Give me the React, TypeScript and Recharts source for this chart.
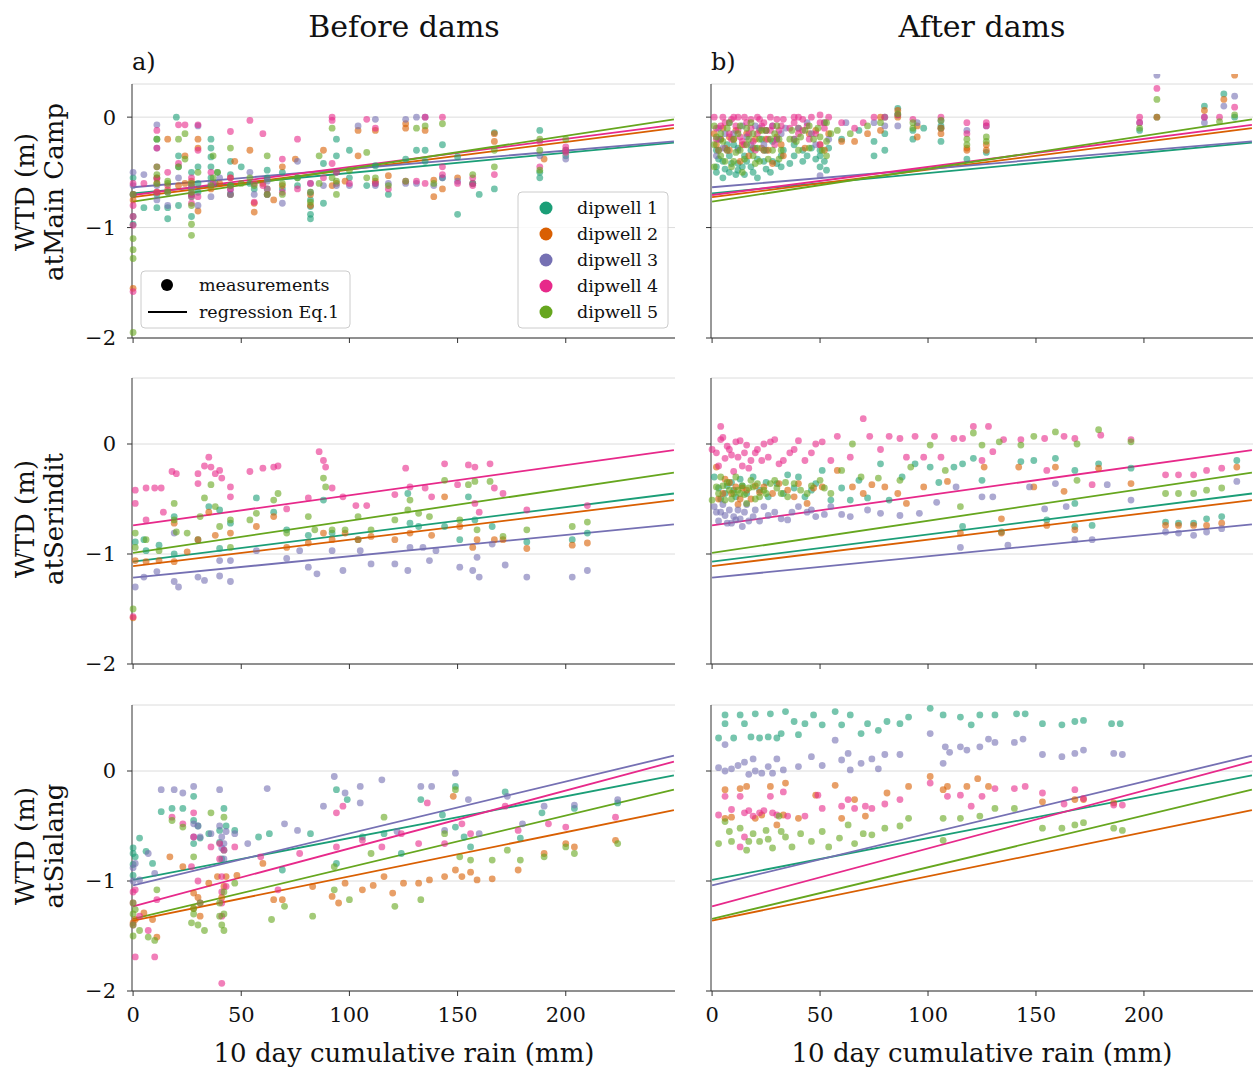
import React from 'react';
import { ScatterChart, Scatter, XAxis, YAxis, CartesianGrid, ReferenceLine } from 'recharts';

const FONT = '"DejaVu Serif", serif';

const wells = ['dipwell 1', 'dipwell 2', 'dipwell 3', 'dipwell 4', 'dipwell 5'];
const colors = ['#1b9e77', '#d95f02', '#7570b3', '#e7298a', '#66a61e'];
const xTicks = [0, 50, 100, 150, 200];
const yTicks = [-2, -1, 0];
const sites = ['atMain Camp', 'atSerindit', 'atSialang'];

// regression lines: WTD at 0 mm and at 250 mm rain, per dipwell
const regMain0 = [-0.69, -0.725, -0.635, -0.705, -0.765];
const regMain250 = [-0.23, -0.1, -0.22, -0.07, -0.02];
const regSer0 = [-1.07, -1.11, -1.215, -0.74, -0.99];
const regSer250 = [-0.45, -0.51, -0.73, -0.055, -0.26];
const regSia0 = [-0.99, -1.36, -1.04, -1.23, -1.345];
const regSia250 = [-0.04, -0.355, 0.14, 0.085, -0.17];

// Main Camp, before dams
const mainBefore1 = [[0,-0.55],[0,-0.7],[0,-0.9],[0,-0.97],[5,-0.82],[11,-0.2],[11,-0.55],[11,-0.7],[11,-0.82],[16,-0.82],[16,-0.92],[20,0.0],[21,-0.35],[21,-0.45],[21,-0.8],[27,-0.5],[27,-0.62],[27,-0.7],[27,-0.9],[30,-0.45],[30,-0.6],[30,-0.68],[36,-0.2],[36,-0.28],[36,-0.36],[36,-0.45],[36,-0.55],[38,-0.6],[39,-0.5],[45,-0.4],[45,-0.52],[45,-0.62],[45,-0.7],[50,-0.45],[54,-0.6],[56,-0.65],[62,-0.48],[62,-0.55],[62,-0.7],[69,-0.5],[69,-0.65],[76,-0.55],[76,-0.62],[82,-0.75],[82,-0.81],[82,-0.88],[82,-0.92],[88,-0.42],[88,-0.78],[94,-0.2],[94,-0.35],[94,-0.5],[100,-0.3],[100,-0.55],[108,-0.62],[112,-0.44],[112,-0.6],[118,-0.7],[126,-0.38],[131,-0.3],[135,-0.3],[135,-0.4],[143,-0.25],[143,-0.55],[150,-0.36],[150,-0.88],[157,-0.6],[160,-0.7],[167,-0.14],[167,-0.65],[188,-0.12],[188,-0.5],[188,-0.55],[200,-0.35]];
const mainBefore2 = [[0,-0.75],[0,-1.55],[11,-0.55],[11,-0.6],[11,-0.68],[16,-0.2],[16,-0.66],[21,-0.62],[24,-0.35],[24,-0.6],[27,-0.58],[27,-0.72],[30,-0.2],[30,-0.28],[30,-0.85],[36,-0.65],[40,-0.6],[45,-0.55],[45,-0.7],[47,-0.4],[54,-0.3],[56,-0.78],[56,-0.86],[60,-0.6],[62,-0.65],[65,-0.75],[69,-0.45],[69,-0.62],[75,-0.38],[82,-0.7],[82,-0.8],[88,-0.3],[92,-0.62],[94,-0.6],[98,-0.58],[104,-0.12],[104,-0.35],[112,-0.12],[112,-0.58],[118,-0.53],[126,-0.06],[126,-0.1],[135,-0.12],[139,-0.57],[139,-0.72],[143,-0.65],[150,-0.55],[157,-0.6],[167,-0.15],[167,-0.22],[190,-0.38],[200,-0.3]];
const mainBefore3 = [[0,-0.5],[0,-0.62],[5,-0.52],[11,-0.07],[11,-0.28],[11,-0.62],[11,-0.75],[16,-0.68],[16,-0.8],[21,-0.55],[27,-0.65],[27,-0.72],[30,-0.08],[30,-0.8],[36,-0.6],[36,-0.72],[40,-0.55],[45,-0.66],[45,-0.7],[54,-0.5],[56,-0.7],[62,-0.58],[62,-0.65],[69,-0.78],[76,-0.4],[82,-0.6],[82,-0.68],[88,-0.62],[94,-0.62],[100,-0.62],[104,-0.08],[112,-0.02],[112,-0.62],[118,-0.6],[126,-0.02],[126,-0.6],[131,0.0],[131,-0.6],[135,0.0],[139,-0.62],[143,-0.55],[150,-0.58],[157,-0.6],[188,-0.35],[200,-0.3],[200,-0.38]];
const mainBefore4 = [[0,-0.6],[0,-0.7],[0,-0.8],[0,-0.9],[0,-0.98],[0,-1.58],[5,-0.6],[11,-0.12],[11,-0.28],[11,-0.45],[11,-0.56],[11,-0.68],[16,-0.5],[16,-0.62],[21,-0.07],[21,-0.42],[24,-0.07],[27,-0.55],[27,-0.62],[27,-0.7],[27,-0.78],[30,-0.07],[30,-0.3],[30,-0.72],[36,-0.5],[37,-0.6],[45,-0.13],[45,-0.55],[45,-0.65],[54,-0.03],[56,-0.6],[56,-0.77],[60,-0.15],[60,-0.62],[62,-0.7],[69,-0.38],[69,-0.68],[76,-0.2],[76,-0.65],[82,-0.6],[88,-0.55],[92,0.0],[92,-0.03],[92,-0.42],[94,-0.5],[100,-0.6],[108,-0.02],[112,-0.1],[112,-0.6],[118,-0.65],[126,-0.58],[131,-0.58],[135,0.0],[135,-0.6],[143,0.0],[143,-0.45],[143,-0.52],[150,-0.6],[157,-0.55],[157,-0.62],[167,-0.52],[188,-0.22],[188,-0.45],[200,-0.27],[200,-0.32]];
const mainBefore5 = [[0,-0.7],[0,-1.1],[0,-1.2],[0,-1.28],[0,-1.95],[11,-0.2],[11,-0.45],[11,-0.52],[11,-0.6],[16,-0.58],[16,-0.6],[16,-0.68],[21,-0.2],[21,-0.45],[24,-0.15],[24,-0.38],[27,-0.6],[27,-0.68],[27,-0.8],[27,-0.97],[27,-1.07],[30,-0.5],[36,-0.62],[37,-0.35],[37,-0.55],[39,-0.5],[45,-0.28],[45,-0.62],[50,-0.6],[54,-0.55],[56,-0.62],[62,-0.35],[62,-0.7],[69,-0.6],[69,-0.7],[76,-0.55],[82,-0.68],[82,-0.77],[86,-0.35],[86,-0.6],[92,-0.1],[92,-0.55],[94,-0.58],[94,-0.7],[100,-0.48],[108,-0.32],[108,-0.55],[112,-0.55],[118,-0.62],[126,-0.58],[131,-0.1],[135,-0.08],[139,-0.6],[143,-0.06],[157,-0.52],[167,-0.3],[167,-0.45],[188,-0.2],[188,-0.3],[188,-0.48],[200,-0.2]];

// Main Camp, after dams
const mainAfter1 = [[2,-0.3],[2,-0.45],[2,-0.5],[3,-0.38],[4,-0.2],[5,-0.4],[5,-0.55],[6,-0.47],[7,-0.25],[8,-0.35],[8,-0.5],[9,-0.42],[10,-0.25],[11,-0.52],[12,-0.28],[12,-0.42],[12,-0.48],[14,-0.45],[15,-0.35],[15,-0.52],[16,-0.4],[18,-0.3],[18,-0.45],[19,-0.5],[20,-0.28],[21,-0.38],[21,-0.55],[23,-0.2],[24,-0.4],[25,-0.3],[25,-0.47],[27,-0.5],[28,-0.22],[28,-0.4],[30,-0.42],[32,-0.35],[32,-0.45],[33,-0.3],[36,-0.42],[38,-0.25],[38,-0.35],[42,-0.3],[42,-0.4],[44,-0.35],[46,-0.28],[48,-0.38],[50,-0.3],[50,-0.35],[50,-0.45],[52,-0.4],[53,-0.48],[54,-0.28],[60,-0.2],[68,-0.12],[75,-0.22],[75,-0.35],[80,0.0],[80,-0.15],[80,-0.3],[86,0.02],[86,0.08],[93,-0.12],[93,-0.2],[98,-0.1],[106,-0.08],[106,-0.22],[118,-0.38],[127,-0.32],[198,-0.12],[206,0.0],[228,0.1],[237,0.21],[242,0.0]];
const mainAfter2 = [[1,-0.15],[2,-0.25],[4,-0.2],[5,-0.1],[6,-0.28],[8,-0.18],[8,-0.3],[10,-0.2],[11,-0.12],[13,-0.4],[14,-0.25],[16,-0.15],[17,-0.35],[19,-0.28],[20,-0.2],[22,-0.12],[23,-0.28],[25,-0.2],[26,-0.3],[28,-0.42],[30,-0.18],[32,-0.25],[33,-0.35],[38,-0.2],[40,-0.1],[43,-0.28],[45,-0.15],[48,-0.12],[50,-0.25],[52,-0.05],[52,-0.3],[54,-0.15],[60,-0.22],[66,-0.22],[72,-0.15],[78,0.0],[78,-0.12],[86,0.0],[86,0.06],[95,-0.08],[95,-0.18],[106,-0.1],[106,-0.15],[118,-0.28],[118,-0.3],[127,-0.25],[127,-0.3],[206,0.42],[206,0.0],[228,0.06],[237,0.16],[242,0.38]];
const mainAfter3 = [[2,-0.35],[3,-0.1],[3,-0.2],[5,-0.28],[6,-0.15],[8,-0.05],[10,-0.15],[12,-0.3],[14,-0.08],[16,-0.18],[18,-0.25],[20,-0.08],[22,-0.1],[24,-0.25],[25,-0.12],[28,-0.08],[30,-0.2],[32,-0.15],[34,-0.1],[38,-0.2],[40,-0.1],[44,-0.05],[46,-0.15],[48,-0.25],[50,-0.53],[52,-0.05],[54,-0.2],[62,-0.05],[75,-0.05],[80,-0.08],[86,-0.08],[95,-0.05],[106,-0.03],[118,-0.12],[127,-0.08],[198,-0.05],[206,0.38],[228,0.0],[228,-0.05],[237,0.1],[242,0.19]];
const mainAfter4 = [[1,0.0],[2,-0.1],[2,-0.2],[3,-0.3],[4,-0.08],[5,0.0],[6,-0.05],[7,-0.3],[8,-0.15],[9,-0.02],[9,-0.2],[10,0.0],[11,-0.08],[12,0.0],[12,-0.12],[13,-0.18],[14,-0.22],[15,0.0],[15,-0.25],[16,-0.05],[17,-0.15],[18,-0.02],[18,-0.1],[19,-0.22],[20,-0.3],[21,0.0],[21,-0.15],[22,-0.02],[23,-0.08],[24,-0.05],[24,-0.3],[25,-0.12],[26,-0.2],[27,0.0],[27,-0.12],[28,-0.08],[29,-0.25],[30,-0.02],[30,-0.2],[31,-0.12],[32,-0.08],[33,-0.02],[36,-0.1],[38,0.0],[38,-0.05],[40,0.0],[40,-0.15],[42,-0.02],[42,-0.12],[44,-0.08],[45,-0.2],[46,0.0],[48,-0.15],[50,0.02],[50,-0.05],[50,-0.25],[52,-0.1],[54,0.0],[60,-0.05],[66,-0.1],[70,-0.05],[75,0.0],[80,0.0],[86,0.02],[93,-0.02],[106,0.0],[106,-0.1],[118,-0.05],[118,-0.15],[127,-0.05],[127,-0.08],[198,0.0],[198,-0.05],[206,0.26],[228,0.0],[235,0.0],[242,0.09]];
const mainAfter5 = [[1,-0.08],[1,-0.25],[1,-0.45],[2,-0.18],[3,-0.3],[4,-0.15],[4,-0.35],[5,-0.22],[6,-0.4],[7,-0.1],[7,-0.3],[8,-0.05],[9,-0.45],[10,-0.2],[10,-0.4],[11,-0.32],[12,-0.15],[13,-0.08],[13,-0.3],[14,-0.5],[15,-0.38],[16,-0.1],[16,-0.25],[17,-0.2],[18,-0.05],[19,-0.15],[19,-0.35],[20,-0.42],[21,-0.28],[22,-0.2],[22,-0.4],[23,-0.12],[24,-0.3],[25,-0.12],[26,-0.38],[27,-0.2],[28,-0.3],[29,-0.15],[30,-0.08],[31,-0.2],[31,-0.38],[32,-0.3],[36,-0.2],[37,-0.12],[39,-0.22],[40,-0.3],[41,-0.18],[43,-0.12],[45,-0.08],[45,-0.28],[47,-0.2],[49,-0.1],[50,-0.18],[51,-0.3],[53,-0.05],[53,-0.22],[53,-0.35],[55,-0.15],[58,-0.12],[64,-0.15],[72,-0.08],[78,-0.05],[86,0.03],[93,-0.05],[93,-0.1],[106,-0.03],[106,-0.1],[118,-0.2],[118,-0.25],[127,-0.18],[127,-0.22],[198,-0.1],[206,0.16],[235,-0.04],[242,0.02]];

// Serindit, before dams
const serBefore1 = [[1,-0.89],[5,-0.87],[6,-0.97],[12,-0.92],[19,-0.66],[19,-1.0],[30,-0.87],[35,-0.57],[40,-0.6],[40,-0.95],[45,-0.72],[57,-0.49],[65,-0.62],[71,-0.78],[81,-0.83],[88,-0.51],[92,-0.81],[104,-0.87],[127,-0.45],[128,-0.72],[132,-0.75],[144,-0.75],[151,-0.87],[155,-0.48],[158,-0.69],[166,-0.75],[182,-0.89],[203,-0.87],[210,-0.81]];
const serBefore2 = [[0,-1.58],[1,-1.06],[6,-1.07],[12,-1.06],[19,-0.72],[19,-1.07],[25,-0.98],[30,-0.87],[35,-0.62],[38,-0.83],[45,-0.81],[57,-0.75],[65,-0.66],[71,-0.94],[81,-0.9],[88,-0.81],[92,-0.87],[98,-0.81],[104,-0.87],[110,-0.84],[121,-0.87],[128,-0.81],[138,-0.83],[144,-0.48],[151,-0.75],[157,-0.94],[159,-0.87],[167,-0.87],[171,-0.87],[182,-0.95],[203,-0.92],[210,-0.9]];
const serBefore3 = [[1,-1.3],[5,-1.21],[11,-1.16],[19,-0.81],[19,-1.25],[21,-1.3],[30,-1.21],[33,-1.24],[40,-1.06],[40,-1.2],[45,-1.06],[45,-1.25],[57,-0.97],[71,-1.04],[77,-0.97],[81,-1.12],[85,-1.18],[92,-0.97],[97,-1.15],[105,-0.97],[110,-1.09],[121,-1.09],[127,-1.15],[128,-0.94],[134,-0.94],[137,-1.06],[140,-0.97],[151,-1.12],[157,-1.15],[159,-1.03],[160,-1.21],[166,-0.91],[172,-1.1],[182,-1.21],[203,-1.21],[210,-1.15]];
const serBefore4 = [[0,-1.57],[1,-0.42],[1,-0.54],[6,-0.4],[6,-0.69],[10,-0.4],[13,-0.4],[14,-0.62],[18,-0.25],[20,-0.27],[30,-0.27],[30,-0.36],[33,-0.2],[35,-0.12],[36,-0.21],[38,-0.27],[40,-0.24],[41,-0.31],[45,-0.39],[45,-0.48],[54,-0.25],[60,-0.22],[65,-0.21],[67,-0.2],[71,-0.59],[81,-0.49],[86,-0.07],[88,-0.15],[89,-0.21],[92,-0.4],[97,-0.48],[103,-0.56],[108,-0.56],[121,-0.46],[126,-0.22],[128,-0.39],[135,-0.4],[138,-0.48],[144,-0.18],[150,-0.37],[155,-0.19],[158,-0.21],[158,-0.54],[160,-0.62],[165,-0.18],[167,-0.4],[171,-0.45],[182,-0.6],[210,-0.56]];
const serBefore5 = [[0,-1.5],[1,-0.81],[1,-0.94],[6,-0.87],[12,-0.97],[19,-0.54],[19,-0.69],[20,-0.8],[25,-0.81],[31,-0.66],[33,-0.49],[36,-0.37],[38,-0.57],[40,-0.75],[45,-0.69],[45,-0.94],[54,-0.69],[57,-0.63],[65,-0.51],[67,-0.45],[71,-0.81],[81,-0.66],[84,-0.78],[88,-0.31],[89,-0.39],[92,-0.78],[98,-0.78],[104,-0.66],[110,-0.78],[121,-0.69],[127,-0.6],[128,-0.51],[132,-0.63],[137,-0.66],[144,-0.33],[151,-0.69],[155,-0.37],[158,-0.34],[159,-0.78],[165,-0.34],[171,-0.84],[182,-0.78],[203,-0.75],[210,-0.71]];

// Serindit, after dams
const serAfter1 = [[1,-0.3],[3,-0.4],[4,-0.5],[6,-0.45],[7,-0.38],[9,-0.35],[10,-0.42],[11,-0.48],[13,-0.32],[14,-0.38],[16,-0.45],[19,-0.3],[22,-0.42],[25,-0.35],[26,-0.48],[30,-0.36],[33,-0.45],[35,-0.28],[38,-0.4],[40,-0.3],[43,-0.48],[46,-0.42],[48,-0.36],[51,-0.24],[55,-0.51],[60,-0.4],[64,-0.51],[68,-0.33],[72,-0.49],[78,-0.18],[82,-0.51],[88,-0.3],[94,-0.18],[101,-0.21],[105,-0.35],[112,-0.21],[116,-0.18],[116,-0.75],[121,-0.13],[125,-0.33],[134,-0.8],[143,-0.16],[149,-0.15],[155,-0.69],[159,-0.13],[168,-0.24],[168,-0.54],[168,-0.75],[176,-0.74],[179,-0.18],[194,-0.22],[210,-0.71],[216,-0.72],[223,-0.72],[229,-0.68],[236,-0.66],[243,-0.15]];
const serAfter2 = [[2,-0.21],[3,-0.5],[5,-0.45],[6,-0.32],[8,-0.35],[9,-0.45],[11,-0.39],[12,-0.55],[13,-0.5],[14,-0.4],[16,-0.42],[18,-0.5],[20,-0.38],[22,-0.44],[24,-0.39],[28,-0.45],[31,-0.36],[35,-0.42],[38,-0.48],[40,-0.36],[44,-0.54],[47,-0.4],[51,-0.39],[58,-0.24],[65,-0.39],[70,-0.45],[74,-0.37],[80,-0.39],[86,-0.45],[90,-0.54],[98,-0.39],[109,-0.34],[115,-0.81],[126,-0.21],[134,-0.68],[134,-0.81],[142,-0.21],[149,-0.39],[155,-0.74],[159,-0.21],[163,-0.43],[168,-0.78],[179,-0.22],[194,-0.36],[210,-0.74],[216,-0.74],[223,-0.74],[229,-0.74],[236,-0.72],[243,-0.21]];
const serAfter3 = [[1,-0.57],[2,-0.62],[3,-0.7],[4,-0.62],[5,-0.55],[6,-0.65],[7,-0.72],[8,-0.6],[9,-0.72],[10,-0.66],[11,-0.69],[12,-0.6],[13,-0.68],[14,-0.75],[15,-0.62],[16,-0.55],[17,-0.7],[19,-0.66],[20,-0.6],[22,-0.7],[24,-0.57],[26,-0.65],[29,-0.62],[32,-0.68],[35,-0.69],[37,-0.62],[40,-0.57],[44,-0.62],[46,-0.6],[48,-0.66],[52,-0.64],[55,-0.57],[60,-0.64],[64,-0.66],[72,-0.6],[78,-0.63],[87,-0.65],[96,-0.63],[104,-0.53],[113,-0.39],[115,-0.94],[125,-0.48],[130,-0.48],[137,-0.92],[147,-0.39],[154,-0.59],[159,-0.36],[164,-0.57],[168,-0.87],[176,-0.87],[183,-0.37],[194,-0.51],[210,-0.8],[216,-0.81],[223,-0.83],[229,-0.8],[236,-0.77],[243,-0.34]];
const serAfter4 = [[0,-0.05],[2,-0.08],[3,-0.2],[4,0.16],[4,0.04],[5,0.06],[6,-0.13],[7,-0.02],[8,-0.05],[9,-0.1],[10,-0.25],[11,0.02],[12,-0.12],[13,0.03],[14,-0.2],[15,-0.08],[16,-0.01],[17,-0.22],[18,-0.15],[20,-0.08],[21,-0.05],[23,-0.15],[24,0.0],[26,-0.12],[27,0.02],[29,0.04],[31,-0.18],[33,-0.15],[36,-0.08],[38,-0.05],[40,0.03],[43,-0.15],[46,-0.08],[48,0.0],[51,0.02],[55,-0.15],[58,0.07],[64,-0.12],[70,0.23],[73,0.07],[78,-0.05],[82,0.07],[87,0.05],[90,-0.12],[94,0.07],[98,-0.12],[103,0.07],[106,-0.12],[112,0.05],[116,0.05],[121,0.16],[125,-0.15],[128,0.16],[130,-0.07],[135,0.04],[143,0.04],[154,0.05],[155,-0.24],[163,0.07],[168,0.05],[176,-0.37],[180,0.08],[194,0.04],[210,-0.28],[216,-0.28],[223,-0.28],[229,-0.24],[236,-0.22]];
const serAfter5 = [[0,-0.51],[2,-0.39],[3,-0.45],[4,-0.3],[5,-0.38],[6,-0.51],[7,-0.35],[8,-0.42],[9,-0.5],[10,-0.45],[11,-0.3],[12,-0.42],[13,-0.45],[14,-0.38],[15,-0.46],[16,-0.54],[17,-0.4],[18,-0.33],[19,-0.39],[20,-0.5],[21,-0.36],[22,-0.48],[24,-0.42],[25,-0.45],[27,-0.36],[29,-0.33],[30,-0.4],[32,-0.45],[34,-0.35],[35,-0.48],[38,-0.36],[41,-0.42],[44,-0.45],[46,-0.38],[50,-0.33],[52,-0.4],[55,-0.45],[60,-0.24],[65,0.0],[69,-0.3],[77,-0.31],[87,-0.33],[92,-0.21],[101,-0.01],[108,-0.24],[115,-0.57],[121,0.1],[125,-0.01],[133,0.02],[143,-0.01],[149,0.07],[159,0.11],[169,0.0],[169,-0.33],[179,0.13],[194,0.02],[210,-0.45],[216,-0.45],[223,-0.45],[229,-0.42],[236,-0.4]];

// Sialang, before dams
const siaBefore1 = [[0,-0.7],[0,-0.75],[0,-0.85],[0,-0.95],[1,-0.78],[3,-0.61],[6,-0.73],[9,-0.84],[13,-0.37],[18,-0.34],[23,-0.34],[28,-0.23],[28,-0.45],[28,-0.66],[30,-0.5],[31,-0.61],[35,-0.57],[40,-0.54],[40,-0.65],[41,-0.8],[42,-0.34],[42,-0.72],[43,-0.5],[47,-0.54],[58,-0.6],[63,-0.57],[69,-0.9],[82,-0.57],[94,-0.17],[94,-0.84],[99,-0.26],[106,-0.6],[116,-0.57],[124,-0.75],[133,-0.26],[143,-0.4],[149,-0.14],[149,-0.51],[153,-0.6],[156,-0.69],[172,-0.19],[179,-0.61],[189,-0.38],[204,-0.34],[224,-0.29]];
const siaBefore2 = [[0,-1.38],[1,-1.35],[5,-1.29],[9,-1.35],[11,-1.51],[17,-0.78],[23,-0.87],[28,-1.11],[28,-1.25],[30,-1.15],[31,-1.32],[35,-1.02],[39,-0.96],[41,-1.15],[42,-1.05],[43,-0.96],[48,-0.95],[60,-0.84],[65,-1.17],[69,-1.17],[83,-1.05],[92,-1.14],[95,-1.2],[98,-1.02],[106,-1.08],[111,-1.04],[116,-0.96],[120,-1.11],[125,-1.02],[132,-1.02],[137,-0.99],[144,-0.96],[148,-0.23],[149,-0.9],[152,-0.96],[156,-0.92],[159,-0.99],[166,-0.98],[178,-0.9],[190,-0.75],[200,-0.66],[204,-0.69],[223,-0.63]];
const siaBefore3 = [[0,-0.88],[0,-1.0],[1,-0.84],[3,-0.99],[7,-0.75],[10,-0.93],[13,-0.17],[19,-0.17],[23,-0.2],[28,-0.14],[28,-0.48],[28,-0.6],[30,-0.5],[31,-0.6],[36,-0.57],[40,-0.17],[40,-0.5],[41,-0.6],[41,-0.7],[42,-0.66],[42,-0.8],[43,-0.55],[47,-0.57],[53,-0.66],[62,-0.16],[70,-0.48],[76,-0.54],[88,-0.32],[93,-0.05],[98,-0.2],[105,-0.14],[105,-0.29],[115,-0.08],[122,-0.55],[133,-0.14],[138,-0.14],[144,-0.54],[149,-0.02],[155,-0.26],[160,-0.57],[173,-0.23],[180,-0.48],[190,-0.32],[204,-0.31],[224,-0.26]];
const siaBefore4 = [[0,-1.1],[0,-1.2],[0,-1.4],[1,-1.08],[1,-1.69],[3,-1.32],[7,-1.45],[10,-1.69],[11,-1.17],[18,-0.42],[23,-0.48],[27,-0.87],[28,-0.38],[28,-0.6],[30,-1.0],[31,-1.2],[36,-0.69],[40,-0.66],[40,-0.8],[41,-0.96],[41,-1.1],[41,-1.2],[41,-1.32],[41,-1.93],[42,-0.72],[43,-1.05],[47,-0.69],[59,-0.78],[67,-1.08],[77,-0.75],[94,-0.38],[94,-0.69],[97,-0.32],[106,-0.63],[115,-0.69],[124,-0.57],[132,-0.66],[136,-0.29],[144,-0.66],[152,-0.48],[156,-0.57],[172,-0.32],[178,-0.54],[192,-0.48],[200,-0.51],[223,-0.42]];
const siaBefore5 = [[0,-1.2],[0,-1.3],[0,-1.4],[0,-1.5],[1,-1.26],[3,-1.45],[7,-1.51],[10,-1.54],[11,-1.08],[18,-0.45],[23,-0.51],[27,-1.38],[28,-0.78],[28,-1.25],[28,-1.3],[30,-1.4],[31,-1.2],[33,-1.45],[36,-0.38],[40,-1.2],[40,-1.32],[41,-1.4],[42,-1.1],[42,-1.3],[42,-1.45],[42,-0.42],[47,-1.02],[64,-1.35],[70,-1.23],[83,-1.32],[93,-0.87],[93,-1.08],[100,-1.17],[110,-0.75],[116,-0.42],[121,-1.23],[133,-1.17],[144,-0.57],[149,-0.17],[151,-0.78],[156,-0.81],[166,-0.81],[173,-0.72],[179,-0.81],[190,-0.78],[200,-0.69],[204,-0.75],[224,-0.66]];

// Sialang, after dams
const siaAfter1 = [[3,0.3],[6,0.51],[6,0.43],[10,0.3],[13,0.51],[15,0.43],[18,0.31],[20,0.52],[22,0.3],[26,0.31],[27,0.52],[30,0.3],[32,0.34],[34,0.54],[38,0.45],[40,0.33],[43,0.43],[47,0.51],[51,0.42],[57,0.54],[60,0.42],[64,0.51],[69,0.34],[72,0.43],[77,0.37],[81,0.45],[87,0.43],[91,0.49],[101,0.57],[107,0.51],[115,0.49],[120,0.42],[124,0.51],[131,0.51],[141,0.52],[145,0.52],[153,0.43],[162,0.42],[168,0.45],[172,0.46],[185,0.43],[189,0.43]];
const siaAfter2 = [[6,-0.17],[6,-0.43],[9,-0.42],[13,-0.16],[16,-0.14],[20,-0.43],[23,-0.4],[27,-0.14],[30,-0.49],[33,-0.4],[34,-0.11],[40,-0.43],[48,-0.22],[57,-0.13],[60,-0.43],[66,-0.26],[71,-0.41],[81,-0.2],[91,-0.14],[101,-0.05],[107,-0.17],[109,-0.14],[118,-0.14],[123,-0.07],[128,-0.14],[153,-0.28],[168,-0.26],[172,-0.26],[186,-0.29]];
const siaAfter3 = [[3,0.03],[6,0.24],[6,0.0],[9,0.02],[12,0.05],[15,0.08],[17,-0.03],[19,0.11],[20,0.0],[23,-0.02],[26,0.04],[28,-0.02],[30,0.11],[33,0.01],[40,0.04],[46,0.13],[51,0.05],[57,0.28],[60,0.1],[63,0.16],[64,0.01],[69,0.07],[74,0.11],[77,0.02],[80,0.15],[87,0.15],[101,0.34],[107,0.07],[108,0.22],[110,0.17],[115,0.22],[118,0.19],[124,0.22],[128,0.29],[131,0.26],[140,0.26],[144,0.29],[153,0.15],[162,0.13],[168,0.16],[172,0.19],[186,0.16],[190,0.15]];
const siaAfter4 = [[3,-0.4],[6,-0.23],[9,-0.35],[13,-0.23],[13,-0.69],[15,-0.38],[15,-0.6],[17,-0.36],[19,-0.41],[22,-0.38],[24,-0.36],[27,-0.23],[28,-0.38],[30,-0.4],[33,-0.19],[35,-0.41],[43,-0.41],[49,-0.22],[51,-0.34],[60,-0.32],[63,-0.26],[66,-0.34],[71,-0.32],[74,-0.34],[80,-0.3],[87,-0.26],[101,-0.11],[109,-0.23],[115,-0.22],[120,-0.32],[125,-0.23],[131,-0.16],[140,-0.16],[145,-0.14],[153,-0.2],[163,-0.3],[168,-0.17],[172,-0.25],[186,-0.31],[190,-0.31]];
const siaAfter5 = [[3,-0.66],[6,-0.46],[8,-0.55],[9,-0.64],[13,-0.52],[16,-0.72],[17,-0.64],[19,-0.57],[22,-0.64],[25,-0.54],[26,-0.62],[28,-0.7],[31,-0.41],[32,-0.55],[34,-0.6],[37,-0.69],[41,-0.57],[46,-0.64],[51,-0.55],[54,-0.69],[59,-0.61],[63,-0.49],[66,-0.66],[70,-0.57],[74,-0.58],[80,-0.52],[87,-0.5],[91,-0.43],[107,-0.63],[107,-0.43],[115,-0.43],[124,-0.41],[131,-0.34],[140,-0.34],[153,-0.52],[162,-0.52],[168,-0.49],[172,-0.47],[186,-0.52],[190,-0.54]];

const toPts = (arr: number[][]) => arr.map(([x, y]) => ({ x, y }));
const minus = (v: number) => (v < 0 ? '\u2212' + Math.abs(v) : String(v));
const blank = () => '';

const dot = (color: string) => (p: any) => (
  <circle cx={p.cx} cy={p.cy} r={3.4} fill={color} fillOpacity={0.6} />
);

const tickStyle = { fontSize: 21, fill: '#111', fontFamily: FONT };

interface PanelProps {
  left: number;
  top: number;
  width: number;
  height: number;
  yMax: number;
  sets: number[][][];
  reg0: number[];
  reg250: number[];
  showX: boolean;
  showY: boolean;
}

function Panel({ left, top, width, height, yMax, sets, reg0, reg250, showX, showY }: PanelProps) {
  return (
    <div style={{ position: 'absolute', left, top }}>
      <ScatterChart width={width} height={height} margin={{ top: 10, right: 5, bottom: 0, left: 10 }}>
        <CartesianGrid horizontal vertical={false} stroke="#dcdcdc" />
        <XAxis
          type="number"
          dataKey="x"
          domain={[-0.5, 250.5]}
          ticks={xTicks}
          allowDataOverflow
          height={35}
          axisLine={{ stroke: '#333' }}
          tickLine={{ stroke: '#333' }}
          tickSize={5}
          tickMargin={11}
          tick={tickStyle}
          tickFormatter={showX ? (v: number) => String(v) : blank}
        />
        <YAxis
          type="number"
          dataKey="y"
          domain={[-2, yMax]}
          ticks={yTicks}
          allowDataOverflow
          width={45}
          axisLine={{ stroke: '#333' }}
          tickLine={{ stroke: '#333' }}
          tickSize={5}
          tickMargin={11}
          tick={tickStyle}
          tickFormatter={showY ? minus : blank}
        />
        {sets.map((s, i) => (
          <Scatter key={wells[i]} name={wells[i]} data={toPts(s)} shape={dot(colors[i])} isAnimationActive={false} />
        ))}
        {reg0.map((y0, i) => (
          <ReferenceLine
            key={'reg' + i}
            segment={[{ x: 0, y: y0 }, { x: 250, y: reg250[i] }]}
            stroke={colors[i]}
            strokeWidth={1.8}
          />
        ))}
      </ScatterChart>
    </div>
  );
}

const rows = [
  { top: 74, height: 299, yMax: 0.3, before: [mainBefore1, mainBefore2, mainBefore3, mainBefore4, mainBefore5], after: [mainAfter1, mainAfter2, mainAfter3, mainAfter4, mainAfter5], reg0: regMain0, reg250: regMain250, labelY: 192 },
  { top: 368, height: 331, yMax: 0.6, before: [serBefore1, serBefore2, serBefore3, serBefore4, serBefore5], after: [serAfter1, serAfter2, serAfter3, serAfter4, serAfter5], reg0: regSer0, reg250: regSer250, labelY: 519 },
  { top: 695, height: 331, yMax: 0.6, before: [siaBefore1, siaBefore2, siaBefore3, siaBefore4, siaBefore5], after: [siaAfter1, siaAfter2, siaAfter3, siaAfter4, siaAfter5], reg0: regSia0, reg250: regSia250, labelY: 846 },
];

export default function App() {
  return (
    <div style={{ position: 'absolute', left: 0, top: 0, width: 1255, height: 1068, background: '#fff', fontFamily: FONT }}>
      <style>{'.recharts-scatter{clip-path:none !important}'}</style>
      {rows.map((r, ri) => (
        <React.Fragment key={ri}>
          <Panel left={77} top={r.top} width={603} height={r.height} yMax={r.yMax} sets={r.before} reg0={r.reg0} reg250={r.reg250} showX={ri === 2} showY />
          <Panel left={656} top={r.top} width={602} height={r.height} yMax={r.yMax} sets={r.after} reg0={r.reg0} reg250={r.reg250} showX={ri === 2} showY={false} />
        </React.Fragment>
      ))}
      <svg width={1255} height={1068} style={{ position: 'absolute', left: 0, top: 0, pointerEvents: 'none' }} fontFamily={FONT} fill="#111">
        <text x={404} y={37} fontSize={30} textAnchor="middle">Before dams</text>
        <text x={982} y={37} fontSize={30} textAnchor="middle">After dams</text>
        <text x={132} y={70} fontSize={24}>a)</text>
        <text x={711} y={70} fontSize={24}>b)</text>
        {rows.map((r, ri) => (
          <g key={'lab' + ri}>
            <text x={34} y={r.labelY} fontSize={26} textAnchor="middle" transform={`rotate(-90 34 ${r.labelY})`}>WTD (m)</text>
            <text x={63} y={r.labelY} fontSize={26} textAnchor="middle" transform={`rotate(-90 63 ${r.labelY})`}>{sites[ri]}</text>
          </g>
        ))}
        <text x={404} y={1062} fontSize={26} textAnchor="middle">10 day cumulative rain (mm)</text>
        <text x={982} y={1062} fontSize={26} textAnchor="middle">10 day cumulative rain (mm)</text>

        <rect x={141} y={271} width={209} height={57} rx={4} fill="#fff" fillOpacity={0.8} stroke="#ccc" />
        <circle cx={167} cy={285} r={6} fill="#000" />
        <text x={199} y={291} fontSize={17.5}>measurements</text>
        <line x1={148} y1={312} x2={187} y2={312} stroke="#000" strokeWidth={1.8} />
        <text x={199} y={318} fontSize={17.5}>regression Eq.1</text>

        <rect x={518} y={192} width={150} height={136} rx={4} fill="#fff" fillOpacity={0.8} stroke="#ccc" />
        {wells.map((w, i) => (
          <g key={w}>
            <circle cx={546} cy={208 + 26 * i} r={6.5} fill={colors[i]} />
            <text x={577} y={214 + 26 * i} fontSize={17.5}>{w}</text>
          </g>
        ))}
      </svg>
    </div>
  );
}
